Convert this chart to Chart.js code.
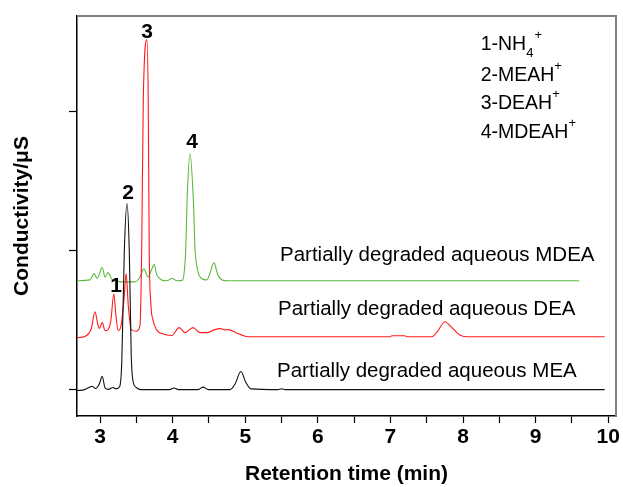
<!DOCTYPE html>
<html>
<head>
<meta charset="utf-8">
<script src="https://cdn.jsdelivr.net/npm/chart.js@4"></script>
<style>
  html, body { margin: 0; padding: 0; background: #fff; }
  #wrap { width: 623px; height: 487px; }
</style>
</head>
<body>
<div id="wrap"><canvas id="chromChart" width="623" height="487"></canvas></div>
<script>
// retention time (min) / conductivity
const meaTime = [2.68, 2.79, 2.85, 2.89, 2.94, 2.99, 3.03, 3.07, 3.12, 3.15, 3.18, 3.22, 3.27, 3.30, 3.335, 3.372, 3.403, 3.43, 3.455, 3.50, 3.56, 3.96, 4.02, 4.08, 4.35, 4.42, 4.49, 4.79, 4.86, 4.94, 5.01, 5.08, 5.45, 5.50, 5.55, 5.80, 9.95];
const meaCond = [-0.007, 0.0, 0.015, 0.024, 0.008, 0.04, 0.095, 0.012, 0.002, 0.01, 0.015, 0.005, 0.02, 0.2, 1.0, 1.34, 1.0, 0.25, 0.06, 0.015, 0.0, 0.0, 0.012, 0.0, 0.0, 0.018, 0.0, 0.0, 0.04, 0.13, 0.05, 0.005, 0.0, 0.006, 0.0, 0.0, 0.0];

const deaTime = [2.68, 2.80, 2.88, 2.93, 2.97, 2.99, 3.03, 3.07, 3.11, 3.15, 3.19, 3.22, 3.25, 3.29, 3.33, 3.36, 3.39, 3.43, 3.50, 3.55, 3.574, 3.596, 3.647, 3.664, 3.678, 3.70, 3.73, 3.78, 3.87, 3.99, 4.09, 4.17, 4.28, 4.38, 4.47, 4.57, 4.66, 4.72, 4.77, 4.87, 5.04, 7.00, 7.02, 7.20, 7.22, 7.57, 7.65, 7.75, 7.84, 7.95, 8.05, 9.95];
const deaCond = [0.374, 0.385, 0.44, 0.561, 0.47, 0.439, 0.482, 0.424, 0.43, 0.5, 0.69, 0.53, 0.424, 0.46, 0.65, 0.835, 0.6, 0.432, 0.42, 0.46, 1.0, 2.09, 2.52, 2.09, 1.0, 0.62, 0.5, 0.43, 0.4, 0.39, 0.446, 0.41, 0.446, 0.41, 0.41, 0.43, 0.439, 0.43, 0.432, 0.41, 0.381, 0.381, 0.388, 0.388, 0.381, 0.381, 0.42, 0.489, 0.45, 0.395, 0.381, 0.381];

const mdeaTime = [2.68, 2.86, 2.92, 2.96, 3.03, 3.07, 3.11, 3.17, 3.28, 3.48, 3.54, 3.606, 3.66, 3.70, 3.747, 3.78, 3.85, 3.92, 3.99, 4.06, 4.14, 4.16, 4.18, 4.20, 4.24, 4.285, 4.31, 4.33, 4.36, 4.40, 4.47, 4.51, 4.57, 4.62, 4.68, 4.76, 9.60];
const mdeaCond = [0.784, 0.79, 0.835, 0.8, 0.878, 0.81, 0.842, 0.79, 0.776, 0.776, 0.8, 0.87, 0.81, 0.85, 0.9, 0.83, 0.79, 0.784, 0.8, 0.784, 0.79, 0.85, 1.0, 1.37, 1.70, 1.37, 1.0, 0.9, 0.83, 0.8, 0.79, 0.83, 0.914, 0.83, 0.79, 0.784, 0.784];

const seriesNames = ['Partially degraded aqueous MEA', 'Partially degraded aqueous DEA', 'Partially degraded aqueous MDEA'];
const peakNames = ['1', '2', '3', '4'];
const ionNames = [
  [['1-NH', ''], ['4', 'sub'], ['+', 'sup']],
  [['2-MEAH', ''], ['+', 'sup']],
  [['3-DEAH', ''], ['+', 'sup']],
  [['4-MDEAH', ''], ['+', 'sup']]
];

const FONT = "'Liberation Sans', Arial, sans-serif";

function toPoints(ts, ys){
  return ts.map((t, i) => ({ x: t, y: ys[i] }));
}

// text placed in data units (time, conductivity)
const peakLabelPos = [[3.22, 0.748], [3.385, 1.417], [3.647, 2.576], [4.267, 1.78]];
const seriesLabelPos = [[5.438, 0.129], [5.452, 0.576], [5.479, 0.964]];
const ionLabelPos = [[8.243, 2.482], [8.243, 2.259], [8.243, 2.058], [8.243, 1.849]];

const annotatePlugin = {
  id: 'annotate',
  afterDraw(chart){
    const { ctx, chartArea, scales: { x, y } } = chart;
    ctx.save();
    // grey top / right frame
    ctx.strokeStyle = '#808080';
    ctx.lineWidth = 2;
    ctx.beginPath();
    ctx.moveTo(chartArea.left, chartArea.top);
    ctx.lineTo(chartArea.right, chartArea.top);
    ctx.lineTo(chartArea.right, chartArea.bottom);
    ctx.stroke();

    ctx.fillStyle = '#000';
    ctx.textBaseline = 'middle';

    ctx.font = 'bold 21px ' + FONT;
    ctx.textAlign = 'center';
    peakNames.forEach((n, i) => {
      ctx.fillText(n, x.getPixelForValue(peakLabelPos[i][0]), y.getPixelForValue(peakLabelPos[i][1]));
    });

    ctx.font = '20.5px ' + FONT;
    ctx.textAlign = 'left';
    seriesNames.forEach((n, i) => {
      ctx.fillText(n, x.getPixelForValue(seriesLabelPos[i][0]), y.getPixelForValue(seriesLabelPos[i][1]));
    });

    ionNames.forEach((parts, i) => {
      let px = x.getPixelForValue(ionLabelPos[i][0]);
      const py = y.getPixelForValue(ionLabelPos[i][1]);
      parts.forEach(([txt, kind]) => {
        if (kind === 'sub') {
          ctx.font = '13px ' + FONT;
          ctx.fillText(txt, px, py + 9);
          px += ctx.measureText(txt).width + 1;
        } else if (kind === 'sup') {
          ctx.font = '13px ' + FONT;
          ctx.fillText(txt, px, py - 9);
          px += ctx.measureText(txt).width;
        } else {
          ctx.font = '19.5px ' + FONT;
          ctx.fillText(txt, px, py);
          px += ctx.measureText(txt).width;
        }
      });
    });
    ctx.restore();
  }
};

const lineStyle = { borderWidth: 1.1, pointRadius: 0, fill: false, cubicInterpolationMode: 'monotone' };

new Chart(document.getElementById('chromChart'), {
  type: 'line',
  data: {
    datasets: [
      Object.assign({ label: seriesNames[0], data: toPoints(meaTime, meaCond), borderColor: '#111111' }, lineStyle),
      Object.assign({ label: seriesNames[1], data: toPoints(deaTime, deaCond), borderColor: '#ff1a1a' }, lineStyle),
      Object.assign({ label: seriesNames[2], data: toPoints(mdeaTime, mdeaCond), borderColor: '#5cb83c' }, lineStyle)
    ]
  },
  options: {
    responsive: false,
    animation: false,
    devicePixelRatio: 1,
    layout: { padding: { top: 16, right: 7, left: 0, bottom: 0 } },
    plugins: { legend: { display: false }, tooltip: { enabled: false } },
    scales: {
      x: {
        type: 'linear',
        min: 2.683,
        max: 10.107,
        border: { color: '#000', width: 1.5 },
        grid: { drawOnChartArea: false, tickLength: 7, tickColor: '#000', tickWidth: 1.2 },
        ticks: {
          stepSize: 0.5,
          includeBounds: false,
          autoSkip: false,
          maxRotation: 0,
          padding: 2,
          color: '#000',
          font: { family: FONT, size: 21, weight: 'bold' },
          callback: v => Math.abs(v - Math.round(v)) < 1e-6 ? String(Math.round(v)) : ''
        },
        title: {
          display: true,
          text: 'Retention time (min)',
          color: '#000',
          padding: { top: 0, bottom: 0 },
          font: { family: FONT, size: 21, weight: 'bold' }
        },
        afterFit: s => { s.height = 71; s.paddingLeft = 0; s.paddingRight = 0; }
      },
      y: {
        min: -0.19,
        max: 2.69,
        border: { color: '#000', width: 1.5 },
        grid: { drawOnChartArea: false, tickLength: 8, tickColor: '#000', tickWidth: 1.2 },
        ticks: { stepSize: 1, includeBounds: false, callback: () => '' },
        title: {
          display: true,
          text: 'Conductivity/μS',
          color: '#000',
          padding: { top: 10, bottom: 0 },
          font: { family: FONT, size: 21, weight: 'bold' }
        },
        afterFit: s => { s.width = 77; s.paddingTop = 0; s.paddingBottom = 0; }
      }
    }
  },
  plugins: [annotatePlugin]
});
</script>
</body>
</html>
